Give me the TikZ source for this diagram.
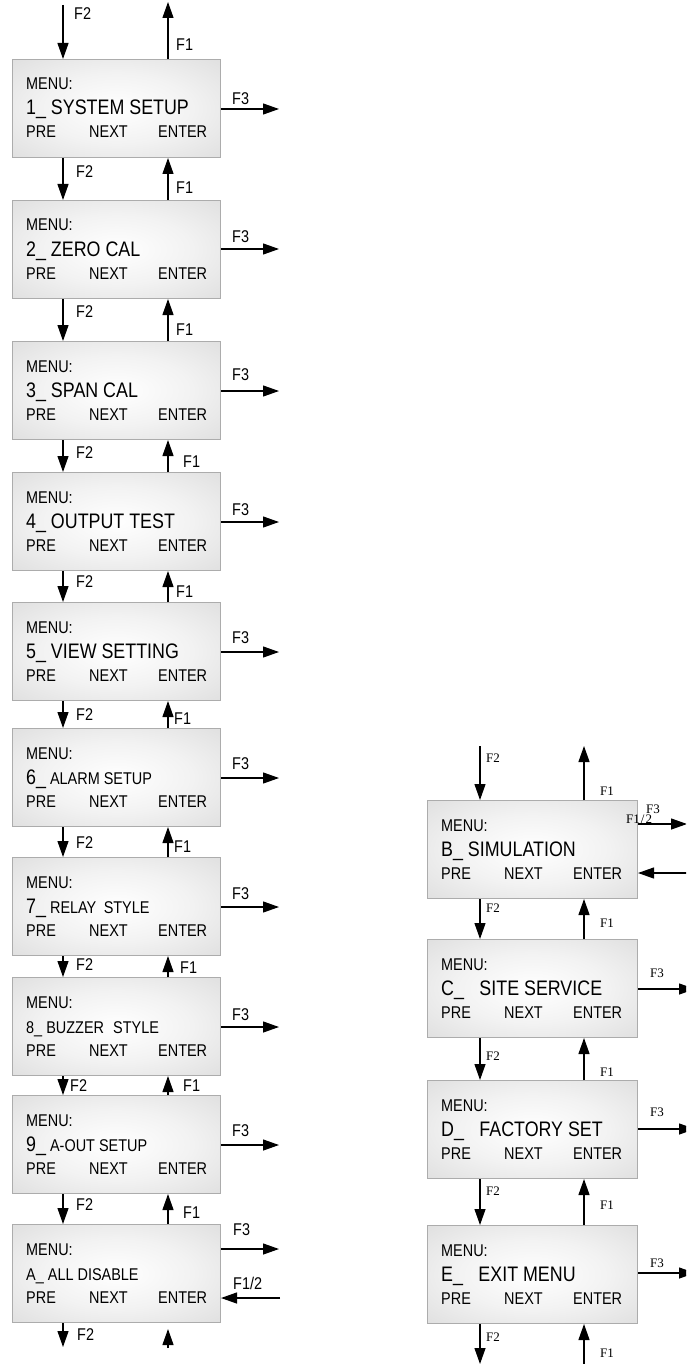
\documentclass[tikz,border=0pt]{standalone}
\usepackage{fontspec}
\setmainfont[FakeStretch=0.85]{Liberation Sans}
\newfontfamily\serifF{Liberation Serif}
\usetikzlibrary{arrows.meta}
\pgfdeclareradialshading{boxshade}{\pgfpoint{0bp}{0bp}}{color(0bp)=(white); color(18bp)=(white!95!black); color(40bp)=(white!86!black); color(50bp)=(white!84!black)}
\newcommand\FS{\fontsize{17}{20}\selectfont}
\newcommand\FL{\fontsize{21}{24}\selectfont}
\newcommand\FR{\serifF\fontsize{13}{15}\selectfont}
\tikzset{
  mbox/.style={draw=gray!65, line width=1pt, shading=boxshade, minimum height=98pt, inner sep=0pt, anchor=north west},
  txt/.style={inner sep=0pt, anchor=base west, font=\FS},
  lab/.style={inner sep=0pt, anchor=west, font=\FS},
  rlab/.style={inner sep=0pt, anchor=west, font=\FR},
  arr/.style={line width=1.2pt, -{Triangle[length=16pt,width=11pt]}},
}
\newcommand\menubox[5]{%
  \node[mbox, minimum width=#4pt] (#1) at (#2,#3) {};
  \node[txt] (#1-m) at ([xshift=14pt,yshift=-31pt]#1.north west) {MENU:};
  \node[txt] (#1-t) at ([xshift=14pt,yshift=-56pt]#1.north west) {#5};
  \node[txt] (#1-p) at ([xshift=14pt,yshift=-79pt]#1.north west) {PRE};
  \node[txt] (#1-n) at ([xshift=77pt,yshift=-79pt]#1.north west) {NEXT};
  \node[txt] (#1-e) at ([xshift=146pt,yshift=-79pt]#1.north west) {ENTER};
}
\newcommand\llink[6]{%
  \draw[arr] ([xshift=51pt]#1.south west) -- ([xshift=51pt]#2.north west);
  \draw[arr] ([xshift=156pt]#2.north west) -- ([xshift=156pt]#1.south west);
  \node[lab] (#1-f2) at (#6,#3) {F2};
  \node[lab] (#1-f1) at (#5,#4) {F1};
}
\newcommand\rlink[4]{%
  \draw[arr] ([xshift=53pt]#1.south west) -- ([xshift=53pt]#2.north west);
  \draw[arr] ([xshift=157pt]#2.north west) -- ([xshift=157pt]#1.south west);
  \node[rlab] (#1-f2) at (486,#3) {F2};
  \node[rlab] (#1-f1) at (600,#4) {F1};
}
\newcommand\fout[6]{%
  \coordinate (#1-o) at ([xshift=#3pt,yshift=-#2pt]#1.north east);
  \draw[arr] ([yshift=-#2pt]#1.north east) -- (#1-o);
  \node[#6] (#1-f3) at (#4,#5) {F3};
}
\begin{document}
\begin{tikzpicture}[x=1pt,y=-1pt]
\clip (0,0) rectangle (686,1364);
\fill[white] (0,0) rectangle (686,1364);
% left column
\menubox{b1}{12}{59}{208}{\FL 1\_ SYSTEM SETUP}
\menubox{b2}{12}{200}{208}{\FL 2\_ ZERO CAL}
\menubox{b3}{12}{341}{208}{\FL 3\_ SPAN CAL}
\menubox{b4}{12}{472}{208}{\FL 4\_ OUTPUT TEST}
\menubox{b5}{12}{602}{208}{\FL 5\_ VIEW SETTING}
\menubox{b6}{12}{728}{208}{{\FL 6\_} ALARM SETUP}
\menubox{b7}{12}{857}{208}{{\FL 7\_} RELAY\hspace{0.2em} STYLE}
\menubox{b8}{12}{977}{208}{8\_ BUZZER\hspace{0.3em} STYLE}
\menubox{b9}{12}{1095}{208}{{\FL 9\_} A-OUT SETUP}
\menubox{bA}{12}{1224}{208}{A\_ ALL DISABLE}
% right column
\menubox{bB}{427}{800}{210}{\FL B\_ SIMULATION}
\menubox{bC}{427}{939}{210}{\FL C\_\hspace{0.5em} SITE SERVICE}
\menubox{bD}{427}{1080}{210}{\FL D\_\hspace{0.5em} FACTORY SET}
\menubox{bE}{427}{1225}{210}{\FL E\_\hspace{0.5em} EXIT MENU}
% left top
\coordinate (tl2) at (63,5);
\coordinate (tl1) at (168,2);
\draw[arr] (tl2) -- ([xshift=51pt]b1.north west);
\draw[arr] ([xshift=156pt]b1.north west) -- (tl1);
\node[lab] (t-f2) at (74,14) {F2};
\node[lab] (t-f1) at (176,45) {F1};
% left links
\llink{b1}{b2}{172}{188}{176}{76}
\llink{b2}{b3}{312}{330}{176}{76}
\llink{b3}{b4}{453}{462}{183}{76}
\llink{b4}{b5}{582}{592}{176}{76}
\llink{b5}{b6}{715}{719}{174}{76}
\llink{b6}{b7}{843}{847}{174}{76}
\llink{b7}{b8}{965}{968}{180}{76}
\llink{b8}{b9}{1086}{1086}{183}{70}
\llink{b9}{bA}{1205}{1213}{183}{76}
% left bottom
\coordinate (bl2) at (63,1347);
\coordinate (bl1s) at (168,1348);
\coordinate (bl1t) at (168,1329);
\draw[arr] ([xshift=51pt]bA.south west) -- (bl2);
\draw[arr] (bl1s) -- (bl1t);
\node[lab] (b-f2) at (77,1335) {F2};
% left F3
\fout{b1}{50}{58}{232}{99}{lab}
\fout{b2}{49}{58}{232}{237}{lab}
\fout{b3}{50}{58}{232}{375}{lab}
\fout{b4}{50}{58}{232}{510}{lab}
\fout{b5}{50}{58}{232}{638}{lab}
\fout{b6}{50}{58}{232}{764}{lab}
\fout{b7}{50}{58}{232}{894}{lab}
\fout{b8}{50}{58}{232}{1015}{lab}
\fout{b9}{50}{58}{232}{1131}{lab}
\fout{bA}{25}{58}{233}{1230}{lab}
\coordinate (inA) at (280,1298);
\draw[arr] (inA) -- ([yshift=-74pt]bA.north east);
\node[lab] (bA-f12) at (233,1283) {F1/2};
% right top
\coordinate (tr2) at (480,746);
\coordinate (tr1) at (584,746);
\draw[arr] (tr2) -- ([xshift=53pt]bB.north west);
\draw[arr] ([xshift=157pt]bB.north west) -- (tr1);
\node[rlab] (rt-f2) at (486,758) {F2};
\node[rlab] (rt-f1) at (600,791) {F1};
% right links
\rlink{bB}{bC}{908}{923}
\rlink{bC}{bD}{1056}{1072}
\rlink{bD}{bE}{1191}{1205}
% right bottom
\coordinate (br2) at (480,1364);
\coordinate (br1) at (584,1370);
\draw[arr] ([xshift=53pt]bE.south west) -- (br2);
\draw[arr] (br1) -- ([xshift=157pt]bE.south west);
\node[rlab] (rb-f2) at (486,1337) {F2};
\node[rlab] (rb-f1) at (600,1353) {F1};
% right F3 (the reference prints F1/2 and F3 overlapping here)
\fout{bB}{24}{49}{646}{809}{rlab}
\node[rlab] (bB-f12) at (626,819) {F1\hspace{1pt}/\hspace{1pt}2};
\coordinate (inB) at (690,873);
\draw[arr] (inB) -- ([yshift=-73pt]bB.north east);
\fout{bC}{50}{57}{650}{973}{rlab}
\fout{bD}{49}{57}{650}{1112}{rlab}
\fout{bE}{48}{57}{650}{1263}{rlab}
\end{tikzpicture}
\end{document}
